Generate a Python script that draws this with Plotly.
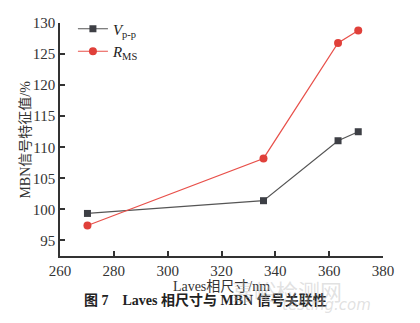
import plotly.graph_objects as go

laves_size = [270.2, 335.6, 363.3, 370.8]
v_pp = [99.35, 101.4, 111.05, 112.5]
r_ms = [97.4, 108.2, 126.8, 128.8]

x_ticks = [260, 280, 300, 320, 340, 360, 380]
y_ticks = [95, 100, 105, 110, 115, 120, 125, 130]

SERIF = "Liberation Serif, DejaVu Serif, Noto Sans CJK SC, serif"

fig = go.Figure()
fig.add_trace(go.Scatter(
    x=laves_size, y=v_pp, mode="lines+markers",
    name="<i>V</i><sub>p-p</sub>",
    line=dict(color="#555555", width=1.2),
    marker=dict(symbol="square", size=7, color="#3d3f45"),
))
fig.add_trace(go.Scatter(
    x=laves_size, y=r_ms, mode="lines+markers",
    name="<i>R</i><sub>MS</sub>",
    line=dict(color="#e8504a", width=1.2),
    marker=dict(symbol="circle", size=8, color="#e0403a"),
))

axis_common = dict(
    showline=True, linecolor="#333333", linewidth=1.5,
    ticks="inside", ticklen=5, tickwidth=1.5, tickcolor="#333333",
    showgrid=False, zeroline=False, mirror=False,
    tickfont=dict(family=SERIF, size=15, color="#333333"),
)

fig.update_xaxes(range=[260, 380], tickvals=x_ticks, **axis_common,
                 title=dict(text="Laves相尺寸/nm", font=dict(family=SERIF, size=14, color="#333333"), standoff=3))
fig.update_yaxes(range=[92.5, 130], tickvals=y_ticks, **axis_common)

fig.add_annotation(
    text="MBN信号特征值/%", textangle=-90,
    xref="paper", yref="paper", x=-0.108, y=0.5, xanchor="center", yanchor="middle",
    showarrow=False, font=dict(family=SERIF, size=14, color="#333333"),
)
fig.add_annotation(
    text="<b>图 7　Laves 相尺寸与 MBN 信号关联性</b>",
    xref="paper", yref="paper", x=0.45, y=-0.19, yanchor="middle",
    showarrow=False, font=dict(family=SERIF, size=14, color="#222222"),
)
fig.add_annotation(
    text="嘉峪检测网", xref="paper", yref="paper", x=0.88, y=-0.145, yanchor="middle",
    showarrow=False, font=dict(family="Noto Sans CJK SC", size=22, color="rgba(180,180,180,0.4)"),
)
fig.add_annotation(
    text="<i>testing.com</i>", xref="paper", yref="paper", x=0.97, y=-0.21, yanchor="middle",
    showarrow=False, font=dict(family="DejaVu Sans", size=15, color="rgba(180,180,180,0.4)"),
)

fig.update_layout(
    width=420, height=323,
    margin=dict(l=60, r=37, t=12, b=67),
    paper_bgcolor="white", plot_bgcolor="white",
    showlegend=True,
    legend=dict(x=0.04, y=1.045, xanchor="left", yanchor="top",
                bgcolor="rgba(0,0,0,0)",
                font=dict(family=SERIF, size=15, color="#222222"),
                itemwidth=30, tracegroupgap=0),
)

fig.write_html("out.html")
